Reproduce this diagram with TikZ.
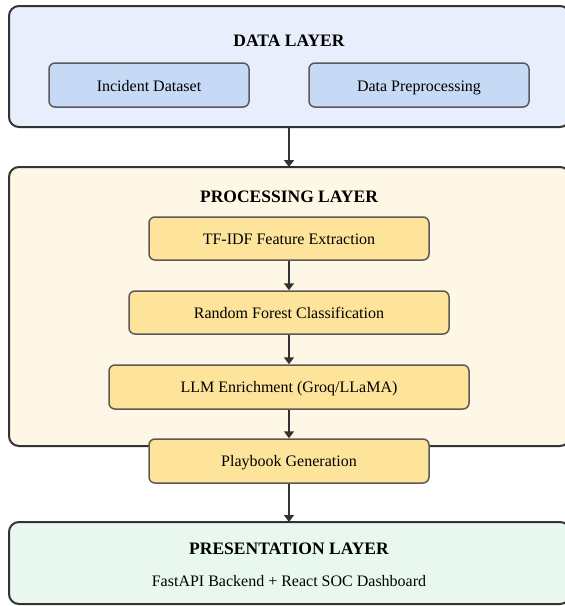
\documentclass[tikz,border=0pt]{standalone}
\usepackage{fontspec}
\setmainfont{Liberation Serif}
\usetikzlibrary{arrows.meta}
\definecolor{edgedark}{HTML}{333333}
\definecolor{edgeinner}{HTML}{5A5A5A}
\definecolor{datafill}{HTML}{E8EEFB}
\definecolor{datainner}{HTML}{C6D9F5}
\definecolor{procfill}{HTML}{FFF7E5}
\definecolor{procinner}{HTML}{FDE49A}
\definecolor{presfill}{HTML}{E9F8EF}
\tikzset{
  label text/.style={font=\fontsize{16}{18}\selectfont, text height=0.66em, text depth=0pt},
  shifted text/.style={label text, yshift=-2.5pt},
  layerbox/.style={draw=edgedark, line width=2pt, rounded corners=10pt},
  stepbox/.style={draw=edgeinner, line width=1.5pt, rounded corners=6pt,
    fill=procinner},
  databox/.style={draw=edgeinner, line width=1.5pt, rounded corners=6pt,
    fill=datainner},
  layertitle/.style={font=\bfseries\fontsize{17.5}{20}\selectfont, text height=0.66em,
    text depth=0pt, yshift=-2.5pt},
  flow/.style={draw=edgedark, line width=2pt,
    -{Triangle[width=10pt,length=7pt]}},
}
\begin{document}
\begin{tikzpicture}[x=1pt,y=-1pt]
\useasboundingbox (0,0) rectangle (565,606);
\clip (0,0) rectangle (565,606);

% data layer
\draw[layerbox, fill=datafill] (9,6) rectangle (570,127);
\coordinate (databot) at (289,127);
\node[layertitle] (datatitle) at (289,41) {DATA LAYER};
\draw[databox] (49,63) rectangle (249,107);
\node[shifted text] (dataset) at (149,85.5) {Incident Dataset};
\draw[databox] (309,63) rectangle (529,107);
\node[shifted text] (prep) at (419,85.5) {Data Preprocessing};

% processing layer
\draw[layerbox, fill=procfill] (9,167) rectangle (570,446);
\coordinate (proctop) at (289,167);
\node[layertitle] (proctitle) at (289,196.5) {PROCESSING LAYER};
\node[stepbox, minimum width=280pt, minimum height=43pt] (tfidf) at (289,238.5) {};
\node[stepbox, minimum width=320pt, minimum height=43pt] (rf) at (289,312.5) {};
\node[stepbox, minimum width=360pt, minimum height=44pt] (llm) at (289,387) {};
\node[stepbox, minimum width=280pt, minimum height=44pt] (play) at (289,461) {};
\node[shifted text] (tfidftext) at (tfidf) {TF-IDF Feature Extraction};
\node[shifted text] (rftext) at (rf) {Random Forest Classification};
\node[shifted text] (llmtext) at (llm) {LLM Enrichment (Groq/LLaMA)};
\node[shifted text] (playtext) at (play) {Playbook Generation};

% presentation layer
\draw[layerbox, fill=presfill] (9,522) rectangle (570,604);
\coordinate (prestop) at (289,522);
\node[layertitle] (prestitle) at (289,548.5) {PRESENTATION LAYER};
\node[shifted text] (stack) at (289,580.5) {FastAPI Backend + React SOC Dashboard};

% connectors
\draw[flow] (databot) -- (proctop);
\draw[flow] (tfidf) -- (rf);
\draw[flow] (rf) -- (llm);
\draw[flow] (llm) -- (play);
\draw[flow] (play) -- (prestop);
\end{tikzpicture}
\end{document}
